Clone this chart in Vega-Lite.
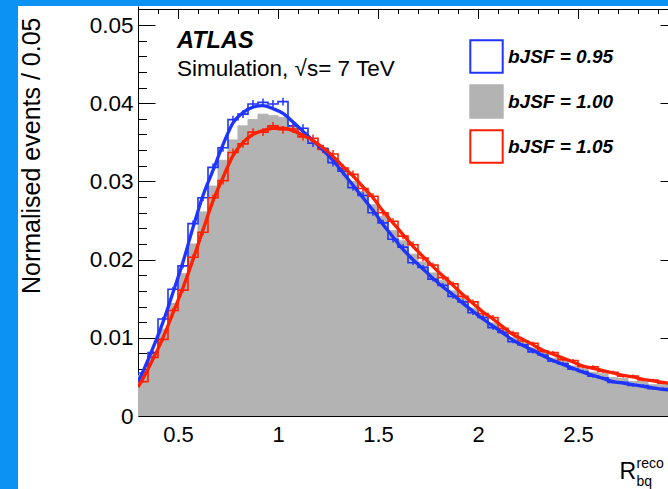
{
  "$schema": "https://vega.github.io/schema/vega-lite/v6.json",
  "background": "white",
  "padding": 0,
  "spacing": -1,
  "config": {
    "font": "Liberation Sans",
    "view": {"stroke": null},
    "axis": {"grid": false, "domainColor": "#000", "tickColor": "#000", "labelColor": "#000", "titleColor": "#000", "labelFont": "Liberation Sans", "titleFont": "Liberation Sans", "titleFontWeight": "normal", "zindex": 1, "domainWidth": 1, "tickWidth": 1, "labelOverlap": false, "labelFlush": false, "offset": 0},
    "legend": {"padding": 0, "symbolType": "square", "symbolSize": 1050, "symbolStrokeWidth": 2, "rowPadding": 4, "labelFontSize": 19, "labelFontWeight": "bold", "labelFontStyle": "italic", "labelColor": "#000", "labelFont": "Liberation Sans", "labelOffset": 4, "symbolOpacity": 1}
  },
  "datasets": {
    "gray": [
      {"x0":0.30,"s":"bJSF = 1.00","h":0.0052},{"x0":0.35,"s":"bJSF = 1.00","h":0.0080},{"x0":0.40,"s":"bJSF = 1.00","h":0.0111},{"x0":0.45,"s":"bJSF = 1.00","h":0.0144},{"x0":0.50,"s":"bJSF = 1.00","h":0.0182},{"x0":0.55,"s":"bJSF = 1.00","h":0.0220},{"x0":0.60,"s":"bJSF = 1.00","h":0.0261},{"x0":0.65,"s":"bJSF = 1.00","h":0.0294},{"x0":0.70,"s":"bJSF = 1.00","h":0.0327},{"x0":0.75,"s":"bJSF = 1.00","h":0.0353},{"x0":0.80,"s":"bJSF = 1.00","h":0.0371},{"x0":0.85,"s":"bJSF = 1.00","h":0.0379},{"x0":0.90,"s":"bJSF = 1.00","h":0.0386},{"x0":0.95,"s":"bJSF = 1.00","h":0.0384},{"x0":1.00,"s":"bJSF = 1.00","h":0.0382},{"x0":1.05,"s":"bJSF = 1.00","h":0.0371},{"x0":1.10,"s":"bJSF = 1.00","h":0.0363},{"x0":1.15,"s":"bJSF = 1.00","h":0.0351},{"x0":1.20,"s":"bJSF = 1.00","h":0.0343},{"x0":1.25,"s":"bJSF = 1.00","h":0.0329},{"x0":1.30,"s":"bJSF = 1.00","h":0.0316},{"x0":1.35,"s":"bJSF = 1.00","h":0.0300},{"x0":1.40,"s":"bJSF = 1.00","h":0.0287},{"x0":1.45,"s":"bJSF = 1.00","h":0.0270},{"x0":1.50,"s":"bJSF = 1.00","h":0.0255},{"x0":1.55,"s":"bJSF = 1.00","h":0.0237},{"x0":1.60,"s":"bJSF = 1.00","h":0.0224},{"x0":1.65,"s":"bJSF = 1.00","h":0.0207},{"x0":1.70,"s":"bJSF = 1.00","h":0.0197},{"x0":1.75,"s":"bJSF = 1.00","h":0.0183},{"x0":1.80,"s":"bJSF = 1.00","h":0.0173},{"x0":1.85,"s":"bJSF = 1.00","h":0.0160},{"x0":1.90,"s":"bJSF = 1.00","h":0.0151},{"x0":1.95,"s":"bJSF = 1.00","h":0.0138},{"x0":2.00,"s":"bJSF = 1.00","h":0.0130},{"x0":2.05,"s":"bJSF = 1.00","h":0.0119},{"x0":2.10,"s":"bJSF = 1.00","h":0.0111},{"x0":2.15,"s":"bJSF = 1.00","h":0.0100},{"x0":2.20,"s":"bJSF = 1.00","h":0.0095},{"x0":2.25,"s":"bJSF = 1.00","h":0.0087},{"x0":2.30,"s":"bJSF = 1.00","h":0.0082},{"x0":2.35,"s":"bJSF = 1.00","h":0.0074},{"x0":2.40,"s":"bJSF = 1.00","h":0.0071},{"x0":2.45,"s":"bJSF = 1.00","h":0.0064},{"x0":2.50,"s":"bJSF = 1.00","h":0.0061},{"x0":2.55,"s":"bJSF = 1.00","h":0.0056},{"x0":2.60,"s":"bJSF = 1.00","h":0.0054},{"x0":2.65,"s":"bJSF = 1.00","h":0.0049},{"x0":2.70,"s":"bJSF = 1.00","h":0.0048},{"x0":2.75,"s":"bJSF = 1.00","h":0.0044},{"x0":2.80,"s":"bJSF = 1.00","h":0.0044},{"x0":2.85,"s":"bJSF = 1.00","h":0.0040},{"x0":2.90,"s":"bJSF = 1.00","h":0.0040},{"x0":2.95,"s":"bJSF = 1.00","h":0.0036}
    ],
    "hist": [
      {"x0":0.30,"xc":0.325,"s":"bJSF = 0.95","h":0.0055,"lo":0.0053,"hi":0.0057},
      {"x0":0.35,"xc":0.375,"s":"bJSF = 0.95","h":0.0081,"lo":0.0079,"hi":0.0083},
      {"x0":0.40,"xc":0.425,"s":"bJSF = 0.95","h":0.0124,"lo":0.0121,"hi":0.0127},
      {"x0":0.45,"xc":0.475,"s":"bJSF = 0.95","h":0.0162,"lo":0.0159,"hi":0.0165},
      {"x0":0.50,"xc":0.525,"s":"bJSF = 0.95","h":0.0192,"lo":0.0189,"hi":0.0195},
      {"x0":0.55,"xc":0.575,"s":"bJSF = 0.95","h":0.0246,"lo":0.0242,"hi":0.0250},
      {"x0":0.60,"xc":0.625,"s":"bJSF = 0.95","h":0.0279,"lo":0.0275,"hi":0.0283},
      {"x0":0.65,"xc":0.675,"s":"bJSF = 0.95","h":0.0318,"lo":0.0313,"hi":0.0323},
      {"x0":0.70,"xc":0.725,"s":"bJSF = 0.95","h":0.0343,"lo":0.0338,"hi":0.0348},
      {"x0":0.75,"xc":0.775,"s":"bJSF = 0.95","h":0.0379,"lo":0.0374,"hi":0.0384},
      {"x0":0.80,"xc":0.825,"s":"bJSF = 0.95","h":0.0386,"lo":0.0381,"hi":0.0391},
      {"x0":0.85,"xc":0.875,"s":"bJSF = 0.95","h":0.0399,"lo":0.0394,"hi":0.0404},
      {"x0":0.90,"xc":0.925,"s":"bJSF = 0.95","h":0.0401,"lo":0.0396,"hi":0.0406},
      {"x0":0.95,"xc":0.975,"s":"bJSF = 0.95","h":0.0399,"lo":0.0394,"hi":0.0404},
      {"x0":1.00,"xc":1.025,"s":"bJSF = 0.95","h":0.0402,"lo":0.0397,"hi":0.0407},
      {"x0":1.05,"xc":1.075,"s":"bJSF = 0.95","h":0.0371,"lo":0.0366,"hi":0.0376},
      {"x0":1.10,"xc":1.125,"s":"bJSF = 0.95","h":0.0368,"lo":0.0363,"hi":0.0373},
      {"x0":1.15,"xc":1.175,"s":"bJSF = 0.95","h":0.0349,"lo":0.0344,"hi":0.0354},
      {"x0":1.20,"xc":1.225,"s":"bJSF = 0.95","h":0.0342,"lo":0.0337,"hi":0.0347},
      {"x0":1.25,"xc":1.275,"s":"bJSF = 0.95","h":0.0324,"lo":0.0319,"hi":0.0329},
      {"x0":1.30,"xc":1.325,"s":"bJSF = 0.95","h":0.0313,"lo":0.0308,"hi":0.0318},
      {"x0":1.35,"xc":1.375,"s":"bJSF = 0.95","h":0.0292,"lo":0.0288,"hi":0.0296},
      {"x0":1.40,"xc":1.425,"s":"bJSF = 0.95","h":0.0282,"lo":0.0278,"hi":0.0286},
      {"x0":1.45,"xc":1.475,"s":"bJSF = 0.95","h":0.0260,"lo":0.0256,"hi":0.0264},
      {"x0":1.50,"xc":1.525,"s":"bJSF = 0.95","h":0.0247,"lo":0.0243,"hi":0.0251},
      {"x0":1.55,"xc":1.575,"s":"bJSF = 0.95","h":0.0226,"lo":0.0222,"hi":0.0230},
      {"x0":1.60,"xc":1.625,"s":"bJSF = 0.95","h":0.0216,"lo":0.0212,"hi":0.0220},
      {"x0":1.65,"xc":1.675,"s":"bJSF = 0.95","h":0.0196,"lo":0.0193,"hi":0.0199},
      {"x0":1.70,"xc":1.725,"s":"bJSF = 0.95","h":0.0190,"lo":0.0187,"hi":0.0193},
      {"x0":1.75,"xc":1.775,"s":"bJSF = 0.95","h":0.0175,"lo":0.0172,"hi":0.0178},
      {"x0":1.80,"xc":1.825,"s":"bJSF = 0.95","h":0.0167,"lo":0.0164,"hi":0.0170},
      {"x0":1.85,"xc":1.875,"s":"bJSF = 0.95","h":0.0153,"lo":0.0150,"hi":0.0156},
      {"x0":1.90,"xc":1.925,"s":"bJSF = 0.95","h":0.0146,"lo":0.0143,"hi":0.0149},
      {"x0":1.95,"xc":1.975,"s":"bJSF = 0.95","h":0.0132,"lo":0.0129,"hi":0.0135},
      {"x0":2.00,"xc":2.025,"s":"bJSF = 0.95","h":0.0126,"lo":0.0123,"hi":0.0129},
      {"x0":2.05,"xc":2.075,"s":"bJSF = 0.95","h":0.0113,"lo":0.0110,"hi":0.0116},
      {"x0":2.10,"xc":2.125,"s":"bJSF = 0.95","h":0.0107,"lo":0.0104,"hi":0.0110},
      {"x0":2.15,"xc":2.175,"s":"bJSF = 0.95","h":0.0095,"lo":0.0093,"hi":0.0097},
      {"x0":2.20,"xc":2.225,"s":"bJSF = 0.95","h":0.0091,"lo":0.0089,"hi":0.0093},
      {"x0":2.25,"xc":2.275,"s":"bJSF = 0.95","h":0.0082,"lo":0.0080,"hi":0.0084},
      {"x0":2.30,"xc":2.325,"s":"bJSF = 0.95","h":0.0078,"lo":0.0076,"hi":0.0080},
      {"x0":2.35,"xc":2.375,"s":"bJSF = 0.95","h":0.0070,"lo":0.0068,"hi":0.0072},
      {"x0":2.40,"xc":2.425,"s":"bJSF = 0.95","h":0.0067,"lo":0.0065,"hi":0.0069},
      {"x0":2.45,"xc":2.475,"s":"bJSF = 0.95","h":0.0060,"lo":0.0058,"hi":0.0062},
      {"x0":2.50,"xc":2.525,"s":"bJSF = 0.95","h":0.0057,"lo":0.0055,"hi":0.0059},
      {"x0":2.55,"xc":2.575,"s":"bJSF = 0.95","h":0.0051,"lo":0.0049,"hi":0.0053},
      {"x0":2.60,"xc":2.625,"s":"bJSF = 0.95","h":0.0049,"lo":0.00475,"hi":0.00505},
      {"x0":2.65,"xc":2.675,"s":"bJSF = 0.95","h":0.0043,"lo":0.00415,"hi":0.00445},
      {"x0":2.70,"xc":2.725,"s":"bJSF = 0.95","h":0.0043,"lo":0.00415,"hi":0.00445},
      {"x0":2.75,"xc":2.775,"s":"bJSF = 0.95","h":0.0039,"lo":0.00375,"hi":0.00405},
      {"x0":2.80,"xc":2.825,"s":"bJSF = 0.95","h":0.0039,"lo":0.00375,"hi":0.00405},
      {"x0":2.85,"xc":2.875,"s":"bJSF = 0.95","h":0.0035,"lo":0.00335,"hi":0.00365},
      {"x0":2.90,"xc":2.925,"s":"bJSF = 0.95","h":0.0035,"lo":0.00335,"hi":0.00365},
      {"x0":2.95,"xc":2.975,"s":"bJSF = 0.95","h":0.0032,"lo":0.00305,"hi":0.00335},
      {"x0":0.30,"xc":0.325,"s":"bJSF = 1.05","h":0.0044,"lo":0.00425,"hi":0.00455},
      {"x0":0.35,"xc":0.375,"s":"bJSF = 1.05","h":0.0075,"lo":0.0073,"hi":0.0077},
      {"x0":0.40,"xc":0.425,"s":"bJSF = 1.05","h":0.0098,"lo":0.0096,"hi":0.0100},
      {"x0":0.45,"xc":0.475,"s":"bJSF = 1.05","h":0.0135,"lo":0.0132,"hi":0.0138},
      {"x0":0.50,"xc":0.525,"s":"bJSF = 1.05","h":0.0161,"lo":0.0158,"hi":0.0164},
      {"x0":0.55,"xc":0.575,"s":"bJSF = 1.05","h":0.0203,"lo":0.0199,"hi":0.0207},
      {"x0":0.60,"xc":0.625,"s":"bJSF = 1.05","h":0.0235,"lo":0.0231,"hi":0.0239},
      {"x0":0.65,"xc":0.675,"s":"bJSF = 1.05","h":0.0279,"lo":0.0275,"hi":0.0283},
      {"x0":0.70,"xc":0.725,"s":"bJSF = 1.05","h":0.0301,"lo":0.0296,"hi":0.0306},
      {"x0":0.75,"xc":0.775,"s":"bJSF = 1.05","h":0.0337,"lo":0.0332,"hi":0.0342},
      {"x0":0.80,"xc":0.825,"s":"bJSF = 1.05","h":0.0348,"lo":0.0343,"hi":0.0353},
      {"x0":0.85,"xc":0.875,"s":"bJSF = 1.05","h":0.0363,"lo":0.0358,"hi":0.0368},
      {"x0":0.90,"xc":0.925,"s":"bJSF = 1.05","h":0.0363,"lo":0.0358,"hi":0.0368},
      {"x0":0.95,"xc":0.975,"s":"bJSF = 1.05","h":0.0371,"lo":0.0366,"hi":0.0376},
      {"x0":1.00,"xc":1.025,"s":"bJSF = 1.05","h":0.0366,"lo":0.0361,"hi":0.0371},
      {"x0":1.05,"xc":1.075,"s":"bJSF = 1.05","h":0.0367,"lo":0.0362,"hi":0.0372},
      {"x0":1.10,"xc":1.125,"s":"bJSF = 1.05","h":0.0357,"lo":0.0352,"hi":0.0362},
      {"x0":1.15,"xc":1.175,"s":"bJSF = 1.05","h":0.0355,"lo":0.0350,"hi":0.0360},
      {"x0":1.20,"xc":1.225,"s":"bJSF = 1.05","h":0.0341,"lo":0.0336,"hi":0.0346},
      {"x0":1.25,"xc":1.275,"s":"bJSF = 1.05","h":0.0335,"lo":0.0330,"hi":0.0340},
      {"x0":1.30,"xc":1.325,"s":"bJSF = 1.05","h":0.0317,"lo":0.0312,"hi":0.0322},
      {"x0":1.35,"xc":1.375,"s":"bJSF = 1.05","h":0.0309,"lo":0.0304,"hi":0.0314},
      {"x0":1.40,"xc":1.425,"s":"bJSF = 1.05","h":0.0291,"lo":0.0287,"hi":0.0295},
      {"x0":1.45,"xc":1.475,"s":"bJSF = 1.05","h":0.0281,"lo":0.0277,"hi":0.0285},
      {"x0":1.50,"xc":1.525,"s":"bJSF = 1.05","h":0.0260,"lo":0.0256,"hi":0.0264},
      {"x0":1.55,"xc":1.575,"s":"bJSF = 1.05","h":0.0249,"lo":0.0245,"hi":0.0253},
      {"x0":1.60,"xc":1.625,"s":"bJSF = 1.05","h":0.0230,"lo":0.0226,"hi":0.0234},
      {"x0":1.65,"xc":1.675,"s":"bJSF = 1.05","h":0.0219,"lo":0.0215,"hi":0.0223},
      {"x0":1.70,"xc":1.725,"s":"bJSF = 1.05","h":0.0202,"lo":0.0198,"hi":0.0206},
      {"x0":1.75,"xc":1.775,"s":"bJSF = 1.05","h":0.0193,"lo":0.0190,"hi":0.0196},
      {"x0":1.80,"xc":1.825,"s":"bJSF = 1.05","h":0.0177,"lo":0.0174,"hi":0.0180},
      {"x0":1.85,"xc":1.875,"s":"bJSF = 1.05","h":0.0169,"lo":0.0166,"hi":0.0172},
      {"x0":1.90,"xc":1.925,"s":"bJSF = 1.05","h":0.0153,"lo":0.0150,"hi":0.0156},
      {"x0":1.95,"xc":1.975,"s":"bJSF = 1.05","h":0.0146,"lo":0.0143,"hi":0.0149},
      {"x0":2.00,"xc":2.025,"s":"bJSF = 1.05","h":0.0131,"lo":0.0128,"hi":0.0134},
      {"x0":2.05,"xc":2.075,"s":"bJSF = 1.05","h":0.0126,"lo":0.0123,"hi":0.0129},
      {"x0":2.10,"xc":2.125,"s":"bJSF = 1.05","h":0.0112,"lo":0.0109,"hi":0.0115},
      {"x0":2.15,"xc":2.175,"s":"bJSF = 1.05","h":0.0106,"lo":0.0103,"hi":0.0109},
      {"x0":2.20,"xc":2.225,"s":"bJSF = 1.05","h":0.0096,"lo":0.0094,"hi":0.0098},
      {"x0":2.25,"xc":2.275,"s":"bJSF = 1.05","h":0.0093,"lo":0.0091,"hi":0.0095},
      {"x0":2.30,"xc":2.325,"s":"bJSF = 1.05","h":0.0083,"lo":0.0081,"hi":0.0085},
      {"x0":2.35,"xc":2.375,"s":"bJSF = 1.05","h":0.0081,"lo":0.0079,"hi":0.0083},
      {"x0":2.40,"xc":2.425,"s":"bJSF = 1.05","h":0.0072,"lo":0.0070,"hi":0.0074},
      {"x0":2.45,"xc":2.475,"s":"bJSF = 1.05","h":0.0071,"lo":0.0069,"hi":0.0073},
      {"x0":2.50,"xc":2.525,"s":"bJSF = 1.05","h":0.0063,"lo":0.0061,"hi":0.0065},
      {"x0":2.55,"xc":2.575,"s":"bJSF = 1.05","h":0.0063,"lo":0.0061,"hi":0.0065},
      {"x0":2.60,"xc":2.625,"s":"bJSF = 1.05","h":0.0057,"lo":0.0055,"hi":0.0059},
      {"x0":2.65,"xc":2.675,"s":"bJSF = 1.05","h":0.0056,"lo":0.0054,"hi":0.0058},
      {"x0":2.70,"xc":2.725,"s":"bJSF = 1.05","h":0.0051,"lo":0.0049,"hi":0.0053},
      {"x0":2.75,"xc":2.775,"s":"bJSF = 1.05","h":0.0051,"lo":0.0049,"hi":0.0053},
      {"x0":2.80,"xc":2.825,"s":"bJSF = 1.05","h":0.0046,"lo":0.00445,"hi":0.00475},
      {"x0":2.85,"xc":2.875,"s":"bJSF = 1.05","h":0.0046,"lo":0.00445,"hi":0.00475},
      {"x0":2.90,"xc":2.925,"s":"bJSF = 1.05","h":0.0042,"lo":0.00405,"hi":0.00435},
      {"x0":2.95,"xc":2.975,"s":"bJSF = 1.05","h":0.0042,"lo":0.00405,"hi":0.00435}
    ],
    "fit": [
      {"x":0.300,"s":"bJSF = 0.95","f":0.0044},{"x":0.325,"s":"bJSF = 0.95","f":0.0057},{"x":0.375,"s":"bJSF = 0.95","f":0.0087},{"x":0.425,"s":"bJSF = 0.95","f":0.0120},{"x":0.475,"s":"bJSF = 0.95","f":0.0158},{"x":0.525,"s":"bJSF = 0.95","f":0.0197},{"x":0.575,"s":"bJSF = 0.95","f":0.0241},{"x":0.625,"s":"bJSF = 0.95","f":0.0282},{"x":0.675,"s":"bJSF = 0.95","f":0.0314},{"x":0.725,"s":"bJSF = 0.95","f":0.0347},{"x":0.775,"s":"bJSF = 0.95","f":0.0375},{"x":0.825,"s":"bJSF = 0.95","f":0.0388},{"x":0.875,"s":"bJSF = 0.95","f":0.0395},{"x":0.925,"s":"bJSF = 0.95","f":0.0397},{"x":0.975,"s":"bJSF = 0.95","f":0.0393},{"x":1.025,"s":"bJSF = 0.95","f":0.0387},{"x":1.075,"s":"bJSF = 0.95","f":0.0376},{"x":1.125,"s":"bJSF = 0.95","f":0.0364},{"x":1.175,"s":"bJSF = 0.95","f":0.0352},{"x":1.225,"s":"bJSF = 0.95","f":0.0340},{"x":1.275,"s":"bJSF = 0.95","f":0.0327},{"x":1.325,"s":"bJSF = 0.95","f":0.0311},{"x":1.375,"s":"bJSF = 0.95","f":0.0295},{"x":1.425,"s":"bJSF = 0.95","f":0.0279},{"x":1.475,"s":"bJSF = 0.95","f":0.0263},{"x":1.525,"s":"bJSF = 0.95","f":0.0245},{"x":1.575,"s":"bJSF = 0.95","f":0.0229},{"x":1.625,"s":"bJSF = 0.95","f":0.0213},{"x":1.675,"s":"bJSF = 0.95","f":0.0200},{"x":1.725,"s":"bJSF = 0.95","f":0.0188},{"x":1.775,"s":"bJSF = 0.95","f":0.0176},{"x":1.825,"s":"bJSF = 0.95","f":0.0165},{"x":1.875,"s":"bJSF = 0.95","f":0.0155},{"x":1.925,"s":"bJSF = 0.95","f":0.0144},{"x":1.975,"s":"bJSF = 0.95","f":0.0134},{"x":2.025,"s":"bJSF = 0.95","f":0.0124},{"x":2.075,"s":"bJSF = 0.95","f":0.0115},{"x":2.125,"s":"bJSF = 0.95","f":0.0106},{"x":2.175,"s":"bJSF = 0.95","f":0.0097},{"x":2.225,"s":"bJSF = 0.95","f":0.0090},{"x":2.275,"s":"bJSF = 0.95","f":0.0084},{"x":2.325,"s":"bJSF = 0.95","f":0.0077},{"x":2.375,"s":"bJSF = 0.95","f":0.0071},{"x":2.425,"s":"bJSF = 0.95","f":0.0066},{"x":2.475,"s":"bJSF = 0.95","f":0.0061},{"x":2.525,"s":"bJSF = 0.95","f":0.0056},{"x":2.575,"s":"bJSF = 0.95","f":0.0052},{"x":2.625,"s":"bJSF = 0.95","f":0.0048},{"x":2.675,"s":"bJSF = 0.95","f":0.0044},{"x":2.725,"s":"bJSF = 0.95","f":0.0042},{"x":2.775,"s":"bJSF = 0.95","f":0.0040},{"x":2.825,"s":"bJSF = 0.95","f":0.0038},{"x":2.875,"s":"bJSF = 0.95","f":0.0036},{"x":2.925,"s":"bJSF = 0.95","f":0.0034},{"x":2.975,"s":"bJSF = 0.95","f":0.0033},
      {"x":0.300,"s":"bJSF = 1.05","f":0.0037},{"x":0.325,"s":"bJSF = 1.05","f":0.0048},{"x":0.375,"s":"bJSF = 1.05","f":0.0073},{"x":0.425,"s":"bJSF = 1.05","f":0.0100},{"x":0.475,"s":"bJSF = 1.05","f":0.0132},{"x":0.525,"s":"bJSF = 1.05","f":0.0164},{"x":0.575,"s":"bJSF = 1.05","f":0.0200},{"x":0.625,"s":"bJSF = 1.05","f":0.0238},{"x":0.675,"s":"bJSF = 1.05","f":0.0275},{"x":0.725,"s":"bJSF = 1.05","f":0.0305},{"x":0.775,"s":"bJSF = 1.05","f":0.0333},{"x":0.825,"s":"bJSF = 1.05","f":0.0350},{"x":0.875,"s":"bJSF = 1.05","f":0.0360},{"x":0.925,"s":"bJSF = 1.05","f":0.0365},{"x":0.975,"s":"bJSF = 1.05","f":0.0368},{"x":1.025,"s":"bJSF = 1.05","f":0.0368},{"x":1.075,"s":"bJSF = 1.05","f":0.0365},{"x":1.125,"s":"bJSF = 1.05","f":0.0359},{"x":1.175,"s":"bJSF = 1.05","f":0.0352},{"x":1.225,"s":"bJSF = 1.05","f":0.0343},{"x":1.275,"s":"bJSF = 1.05","f":0.0332},{"x":1.325,"s":"bJSF = 1.05","f":0.0319},{"x":1.375,"s":"bJSF = 1.05","f":0.0307},{"x":1.425,"s":"bJSF = 1.05","f":0.0293},{"x":1.475,"s":"bJSF = 1.05","f":0.0279},{"x":1.525,"s":"bJSF = 1.05","f":0.0262},{"x":1.575,"s":"bJSF = 1.05","f":0.0247},{"x":1.625,"s":"bJSF = 1.05","f":0.0232},{"x":1.675,"s":"bJSF = 1.05","f":0.0217},{"x":1.725,"s":"bJSF = 1.05","f":0.0204},{"x":1.775,"s":"bJSF = 1.05","f":0.0191},{"x":1.825,"s":"bJSF = 1.05","f":0.0179},{"x":1.875,"s":"bJSF = 1.05","f":0.0167},{"x":1.925,"s":"bJSF = 1.05","f":0.0155},{"x":1.975,"s":"bJSF = 1.05","f":0.0144},{"x":2.025,"s":"bJSF = 1.05","f":0.0133},{"x":2.075,"s":"bJSF = 1.05","f":0.0124},{"x":2.125,"s":"bJSF = 1.05","f":0.0114},{"x":2.175,"s":"bJSF = 1.05","f":0.0104},{"x":2.225,"s":"bJSF = 1.05","f":0.0098},{"x":2.275,"s":"bJSF = 1.05","f":0.0091},{"x":2.325,"s":"bJSF = 1.05","f":0.0084},{"x":2.375,"s":"bJSF = 1.05","f":0.0079},{"x":2.425,"s":"bJSF = 1.05","f":0.0074},{"x":2.475,"s":"bJSF = 1.05","f":0.0069},{"x":2.525,"s":"bJSF = 1.05","f":0.0064},{"x":2.575,"s":"bJSF = 1.05","f":0.0061},{"x":2.625,"s":"bJSF = 1.05","f":0.0058},{"x":2.675,"s":"bJSF = 1.05","f":0.0055},{"x":2.725,"s":"bJSF = 1.05","f":0.0052},{"x":2.775,"s":"bJSF = 1.05","f":0.0050},{"x":2.825,"s":"bJSF = 1.05","f":0.0047},{"x":2.875,"s":"bJSF = 1.05","f":0.0045},{"x":2.925,"s":"bJSF = 1.05","f":0.0043},{"x":2.975,"s":"bJSF = 1.05","f":0.0041}
    ]
  },
  "vconcat": [
    {"width": 668, "height": 6, "data": {"values": []}, "mark": "point", "view": {"fill": "#0b92f2", "stroke": null}},
    {
      "spacing": 1,
      "hconcat": [
        {"width": 18, "height": 483, "data": {"values": []}, "mark": "point", "view": {"fill": "#0b92f2", "stroke": null}},
        {
          "width": 530,
          "height": 410,
          "title": {"text": "ATLAS", "subtitle": "Simulation, √s= 7 TeV", "anchor": "start", "frame": "group", "offset": -74, "dx": 39, "font": "Liberation Sans", "fontSize": 23.5, "fontWeight": "bold", "fontStyle": "italic", "color": "#000", "subtitleFont": "Liberation Sans", "subtitleFontSize": 22.5, "subtitleColor": "#000", "subtitlePadding": 5},
          "resolve": {"axis": {"x": "independent", "y": "independent"}},
          "layer": [
            {
              "data": {"name": "gray"},
              "mark": {"type": "area", "clip": true, "interpolate": "step-after"},
              "encoding": {
                "x": {"field": "x0", "type": "quantitative", "scale": {"domain": [0.3, 2.95], "nice": false, "zero": false},
                  "axis": {"orient": "bottom", "values": [0.5, 1, 1.5, 2, 2.5], "format": "~g", "ticks": false, "labelPadding": 8, "labelFontSize": 22, "title": "R", "titleFontSize": 23, "titleX": 481, "titleY": 62, "titleAlign": "left", "titleBaseline": "alphabetic"}},
                "y": {"field": "h", "type": "quantitative", "stack": null, "scale": {"domain": [0, 0.05243], "nice": false, "zero": true},
                  "axis": {"orient": "left", "values": [0, 0.01, 0.02, 0.03, 0.04, 0.05], "format": "~g", "ticks": false, "labelPadding": 5, "labelFontSize": 22.5, "title": "Normalised events / 0.05", "titleFontSize": 25, "titleAngle": 270, "titleAlign": "right", "titleBaseline": "alphabetic", "titleX": -99, "titleY": 11}},
                "fill": {"field": "s", "type": "nominal", "scale": {"domain": ["bJSF = 0.95", "bJSF = 1.00", "bJSF = 1.05"], "range": ["#ffffff", "#b3b3b3", "#ffffff"]}, "legend": {"title": null, "orient": "none", "legendX": 469, "legendY": 39}},
                "stroke": {"field": "s", "type": "nominal", "scale": {"domain": ["bJSF = 0.95", "bJSF = 1.00", "bJSF = 1.05"], "range": ["#1f35ff", "#b3b3b3", "#ff2000"]}, "legend": {"title": null, "orient": "none", "legendX": 469, "legendY": 39}}
              }
            },
            {
              "data": {"name": "hist"},
              "transform": [{"filter": "datum.s == 'bJSF = 0.95'"}],
              "mark": {"type": "line", "clip": true, "interpolate": "step-after", "strokeWidth": 1.6},
              "encoding": {
                "x": {"field": "x0", "type": "quantitative", "axis": {"orient": "bottom", "values": [0.5, 1, 1.5, 2, 2.5], "labels": false, "domain": false, "tickSize": -9.5, "title": null}},
                "y": {"field": "h", "type": "quantitative", "axis": {"orient": "left", "values": [0.01, 0.02, 0.03, 0.04, 0.05], "labels": false, "domain": false, "tickSize": -17, "title": null}},
                "stroke": {"field": "s", "type": "nominal"}
              }
            },
            {
              "data": {"name": "hist"},
              "transform": [{"filter": "datum.s == 'bJSF = 1.05'"}],
              "mark": {"type": "line", "clip": true, "interpolate": "step-after", "strokeWidth": 1.6},
              "encoding": {
                "x": {"field": "x0", "type": "quantitative", "axis": {"orient": "top", "values": [0.5, 1, 1.5, 2, 2.5], "labels": false, "tickSize": -9.5, "offset": -3, "title": null}},
                "y": {"field": "h", "type": "quantitative", "axis": {"orient": "right", "values": [0.01, 0.02, 0.03, 0.04, 0.05], "labels": false, "tickSize": -8, "domain": false, "title": null}},
                "stroke": {"field": "s", "type": "nominal"}
              }
            },
            {
              "data": {"name": "hist"},
              "mark": {"type": "rule", "clip": true, "strokeWidth": 1.5},
              "encoding": {
                "x": {"field": "xc", "type": "quantitative", "axis": {"orient": "top", "values": [0.4,0.6,0.7,0.8,0.9,1.1,1.2,1.3,1.4,1.6,1.7,1.8,1.9,2.1,2.2,2.3,2.4,2.6,2.7,2.8,2.9], "labels": false, "domain": false, "tickSize": -4.5, "offset": -3, "title": null}},
                "y": {"field": "lo", "type": "quantitative", "axis": {"orient": "left", "values": [0.002,0.004,0.006,0.008,0.012,0.014,0.016,0.018,0.022,0.024,0.026,0.028,0.032,0.034,0.036,0.038,0.042,0.044,0.046,0.048], "labels": false, "domain": false, "tickSize": -8.5, "title": null}},
                "y2": {"field": "hi"},
                "stroke": {"field": "s", "type": "nominal"}
              }
            },
            {
              "data": {"name": "fit"},
              "mark": {"type": "line", "clip": true, "interpolate": "monotone", "strokeWidth": 3.3},
              "encoding": {
                "x": {"field": "x", "type": "quantitative", "axis": {"orient": "bottom", "values": [0.4,0.6,0.7,0.8,0.9,1.1,1.2,1.3,1.4,1.6,1.7,1.8,1.9,2.1,2.2,2.3,2.4,2.6,2.7,2.8,2.9], "labels": false, "domain": false, "tickSize": -4.5, "title": ["reco", "bq"], "titleFontSize": 14, "titleLineHeight": 18, "titleX": 498, "titleY": 51, "titleAlign": "left", "titleBaseline": "alphabetic"}},
                "y": {"field": "f", "type": "quantitative", "axis": null},
                "stroke": {"field": "s", "type": "nominal"}
              }
            }
          ]
        }
      ]
    }
  ]
}
